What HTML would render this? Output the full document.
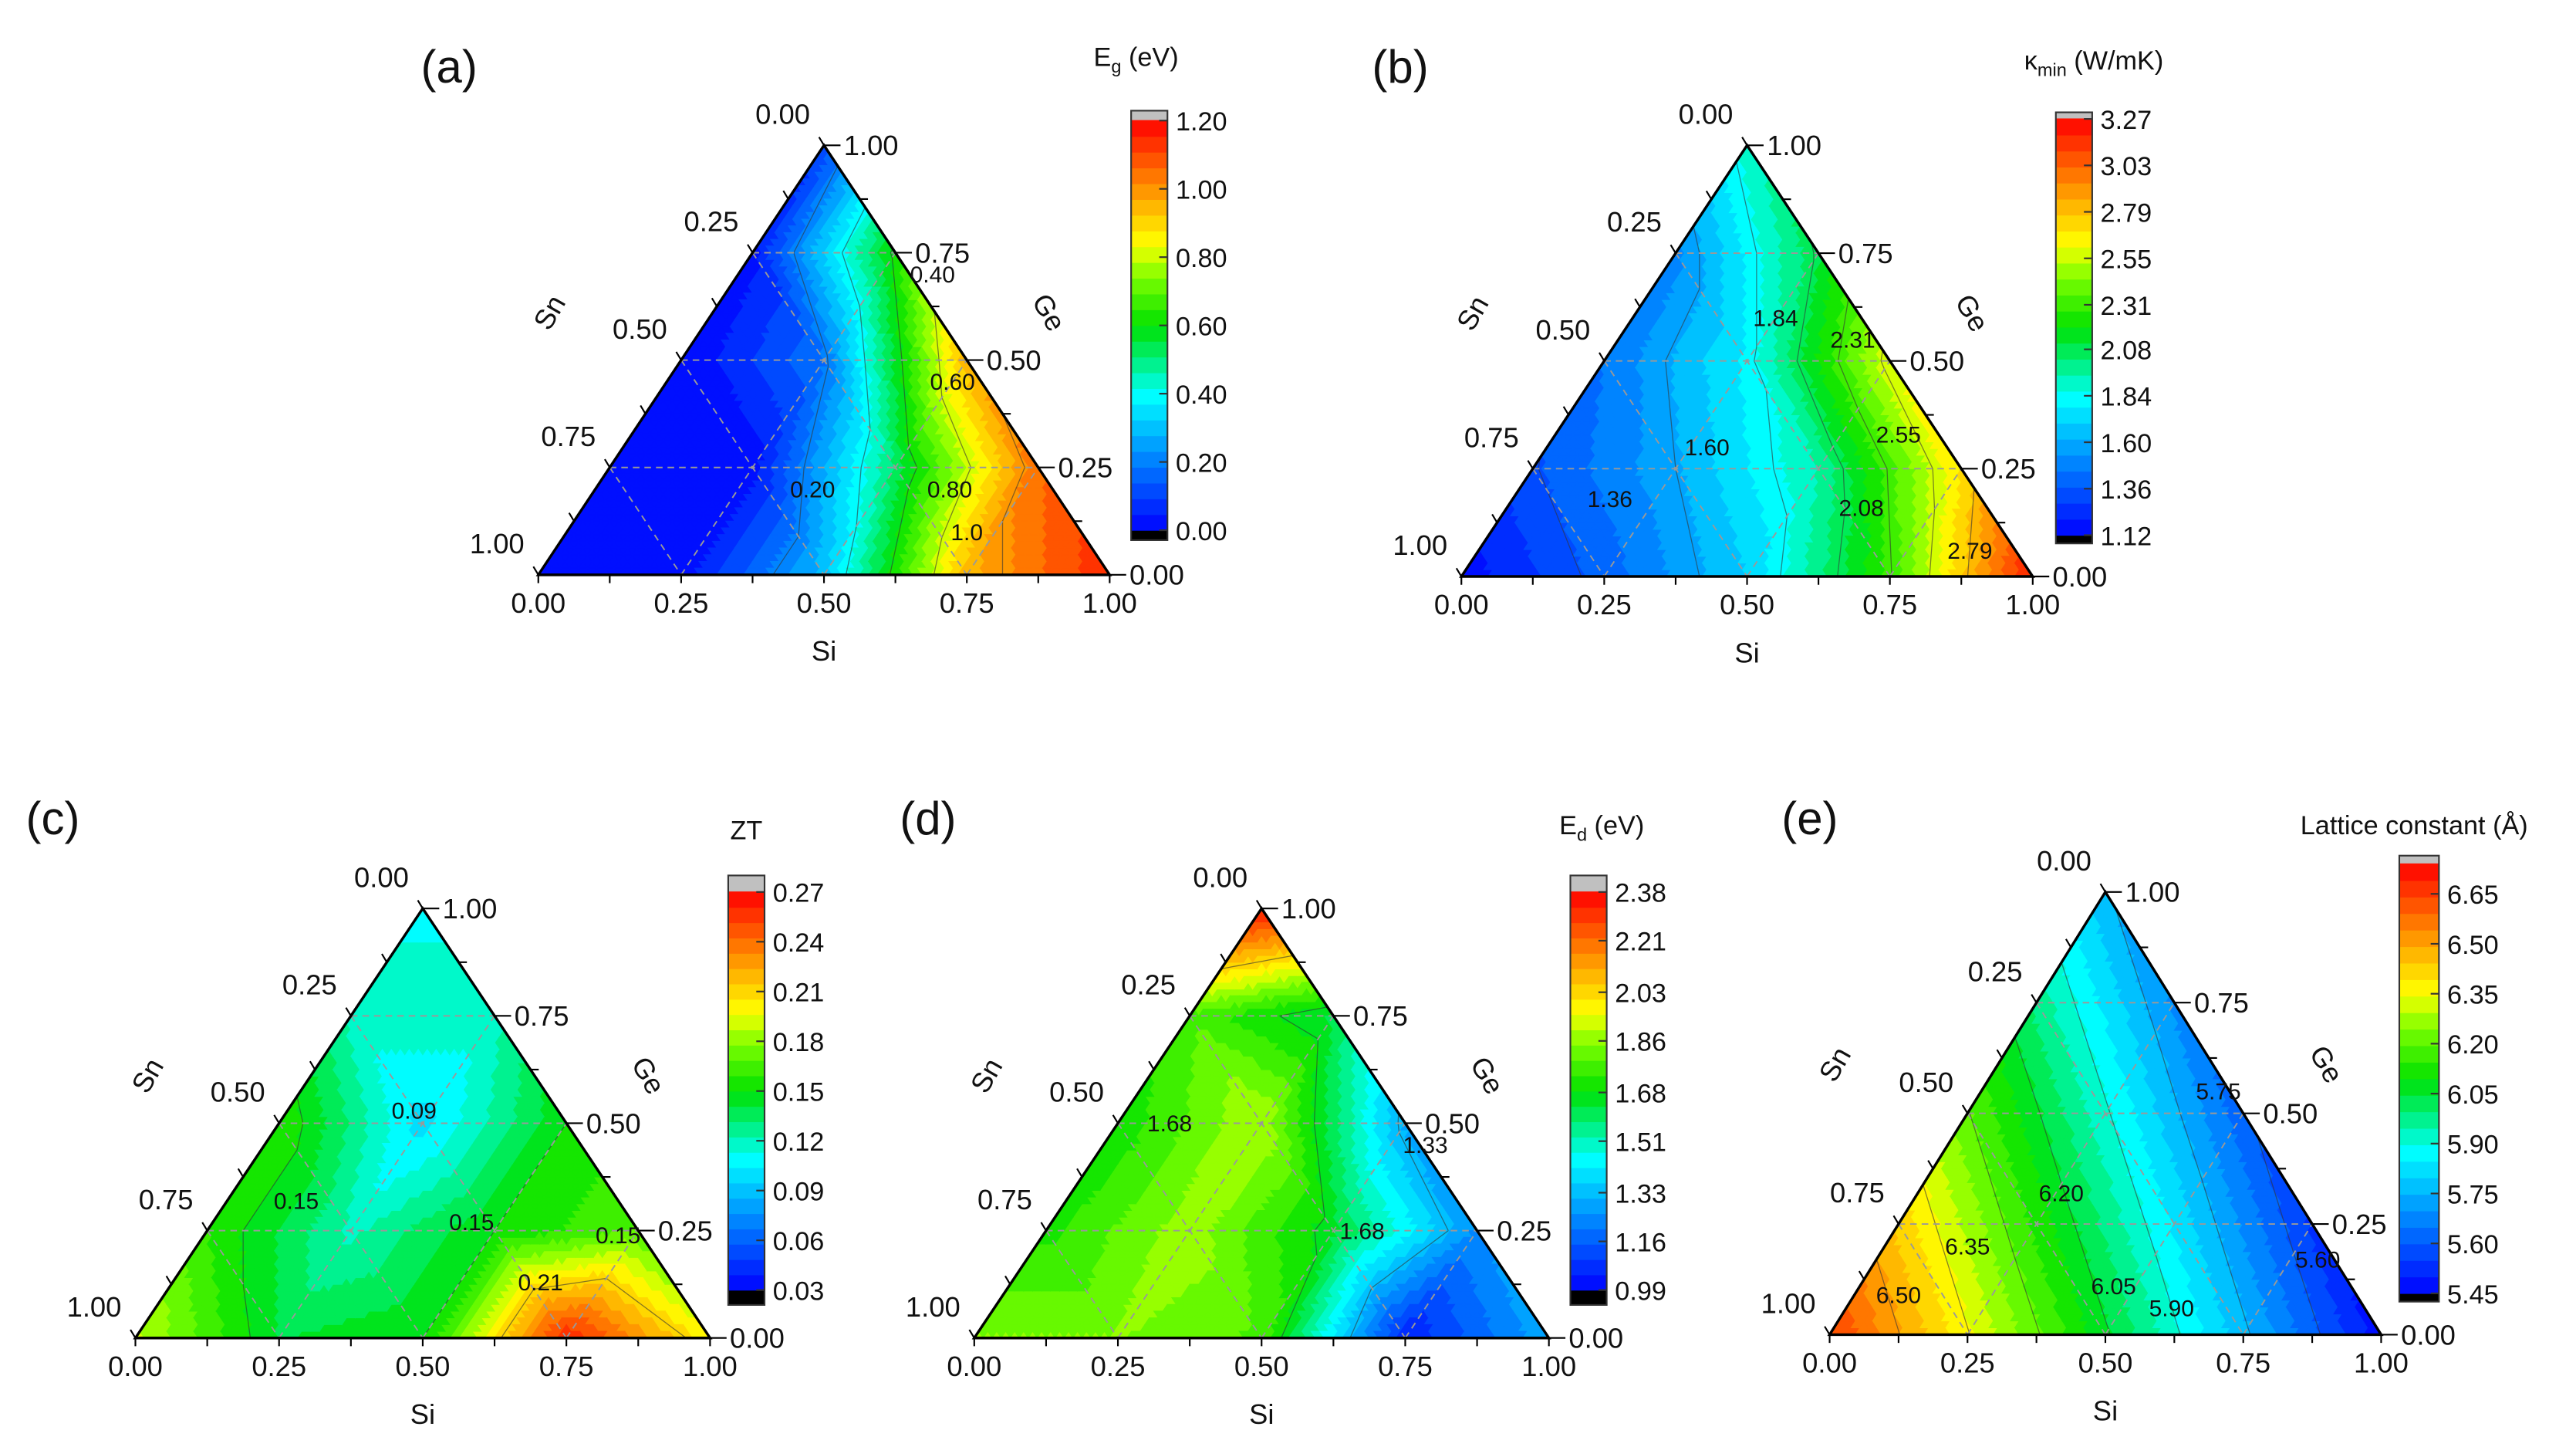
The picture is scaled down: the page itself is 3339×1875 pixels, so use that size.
<!DOCTYPE html>
<html><head><meta charset="utf-8"><style>
html,body{margin:0;padding:0;background:#fff}
svg{display:block}
text{font-family:"Liberation Sans",Arial,sans-serif;fill:#111}
</style></head><body>
<svg id="fig" width="3339" height="1875" viewBox="0 0 1560 876" preserveAspectRatio="none" xmlns="http://www.w3.org/2000/svg">
<g id="layer"></g>
</svg>
<script>
// ---------- data (grid rows by Ge fraction 0,0.25,0.5,0.75,1; values along Si = 0,0.25,...) ----------
const egRows = [[0.0,0.02,0.30,0.95,1.15],[0.0,0.02,0.52,1.05],[0.0,0.18,0.95],[0.03,0.62],[0.10]];
const kapRows = [[1.15,1.40,1.70,2.30,3.20],[1.35,1.60,1.95,2.70],[1.45,1.80,2.60],[1.50,2.10],[1.90]];
const ztRows = [[0.19,0.14,0.15,0.26,0.20],[0.16,0.12,0.15,0.17],[0.16,0.10,0.15],[0.12,0.12],[0.11]];
const edRows = [[1.85,1.85,1.78,1.05,1.30],[1.72,1.88,1.65,1.25],[1.70,1.90,1.30],[1.78,1.62],[2.35]];
const latRows = [[6.65,6.355,6.06,5.765,5.47],[6.43,6.13,5.84,5.54],[6.205,5.91,5.615],[5.98,5.69],[5.76]];

const egTicks = ["0.00","0.20","0.40","0.60","0.80","1.00","1.20"];
const kapTicks = ["1.12","1.36","1.60","1.84","2.08","2.31","2.55","2.79","3.03","3.27"];
const ztTicks = ["0.03","0.06","0.09","0.12","0.15","0.18","0.21","0.24","0.27"];
const edTicks = ["0.99","1.16","1.33","1.51","1.68","1.86","2.03","2.21","2.38"];
const latTicks = ["5.45","5.60","5.75","5.90","6.05","6.20","6.35","6.50","6.65"];

const egLevels = [0.2,0.4,0.6,0.8,1.0];
const kapLevels = [1.36,1.60,1.84,2.08,2.31,2.55,2.79];
const ztLevels = [0.09,0.15,0.21];
const edLevels = [1.33,1.68,2.03];
const latLevels = [5.60,5.75,5.90,6.05,6.20,6.35,6.50];

const axisTicks = ["0.00","0.25","0.50","0.75","1.00"];

const NS='http://www.w3.org/2000/svg';
const layer=document.getElementById('layer');
function mk(tag,attrs,parent){const e=document.createElementNS(NS,tag);for(const k in attrs)e.setAttribute(k,attrs[k]);(parent||layer).appendChild(e);return e;}

const stops=[[0,[0,0,255]],[0.17,[0,130,255]],[0.33,[0,255,255]],[0.5,[0,225,0]],[0.62,[128,255,0]],[0.7,[255,255,0]],[0.83,[255,150,0]],[1,[255,0,0]]];
function cmap(t){t=Math.max(0,Math.min(1,t));for(let i=1;i<stops.length;i++){if(t<=stops[i][0]){const a=stops[i-1],b=stops[i];const f=(t-a[0])/(b[0]-a[0]);const c=a[1].map((v,k)=>Math.round(v+(b[1][k]-v)*f));return `rgb(${c[0]},${c[1]},${c[2]})`;}}return 'rgb(255,0,0)';}
const NLEV=26;

function interp(rows,si,ge){
  let u=si*4,w=ge*4;let i=Math.min(Math.floor(u+1e-9),3),j=Math.min(Math.floor(w+1e-9),3);
  let fu=u-i,fw=w-j;
  if(i+j>3){if(i>0){i--;fu+=1;}else{j--;fw+=1;}}
  const V=(a,b)=>rows[b][a];
  if(fu+fw<=1+1e-9) return V(i,j)+(V(i+1,j)-V(i,j))*fu+(V(i,j+1)-V(i,j))*fw;
  return V(i+1,j+1)+(V(i,j+1)-V(i+1,j+1))*(1-fu)+(V(i+1,j)-V(i+1,j+1))*(1-fw);
}

function panel(P){
  const g=mk('g',{});
  
  
  const BL=P.BL,BR=P.BR,TP=P.TP;
  const pos=(si,ge)=>{const sn=1-si-ge;return [si*BR[0]+ge*TP[0]+sn*BL[0], si*BR[1]+ge*TP[1]+sn*BL[1]];};
  const N=64;
  const qcol=v=>{let t=(v-P.vmin)/(P.vmax-P.vmin);let k=Math.floor(t*NLEV);k=Math.max(0,Math.min(NLEV-1,k));return cmap((k+0.5)/NLEV);};
  const paths={};
  const tris=[];
  for(let a=0;a<N;a++)for(let b=0;a+b<N;b++){
    tris.push([[a,b],[a+1,b],[a,b+1]]);
    if(a+b<N-1)tris.push([[a+1,b],[a+1,b+1],[a,b+1]]);
  }
  const fill=mk('g',{},g);
  
  
  const lines=[];
  for(const t of tris){
    const pts=t.map(p=>pos(p[0]/N,p[1]/N));
    const cs=(t[0][0]+t[1][0]+t[2][0])/(3*N), cg=(t[0][1]+t[1][1]+t[2][1])/(3*N);
    const c=qcol(interp(P.rows,cs,cg));
    const d='M'+pts.map(p=>p[0].toFixed(2)+','+p[1].toFixed(2)).join('L')+'Z';
    paths[c]=(paths[c]||'')+d;
    const vals=t.map(p=>interp(P.rows,p[0]/N,p[1]/N));
    for(const L of P.levels){
      const seg=[];
      for(let e=0;e<3;e++){const i1=e,i2=(e+1)%3;const v1=vals[i1]-L,v2=vals[i2]-L;
        if((v1<0)!==(v2<0)){const f=v1/(v1-v2);seg.push([pts[i1][0]+(pts[i2][0]-pts[i1][0])*f,pts[i1][1]+(pts[i2][1]-pts[i1][1])*f]);}}
      if(seg.length===2)lines.push('M'+seg[0][0].toFixed(2)+','+seg[0][1].toFixed(2)+'L'+seg[1][0].toFixed(2)+','+seg[1][1].toFixed(2));
    }
  }
  for(const c in paths){const p=mk('path',{d:paths[c],fill:c,stroke:c,'stroke-width':0.5},fill);
    
    }
  const cl=mk('path',{d:lines.join(''),fill:'none',stroke:'#333','stroke-opacity':0.6,'stroke-width':0.6},g);
  
  
  const gd=[];
  for(const f of [0.25,0.5,0.75]){
    let a=pos(0,f),b=pos(1-f,f);gd.push(`M${a}L${b}`);
    a=pos(f,0);b=pos(f,1-f);gd.push(`M${a}L${b}`);
    a=pos(0,1-f);b=pos(1-f,0);gd.push(`M${a}L${b}`);
  }
  const gp=mk('path',{d:gd.join(''),fill:'none',stroke:'#999','stroke-width':0.9,'stroke-dasharray':'4,3'},g);
  
  
  const tri=mk('path',{d:`M${BL}L${BR}L${TP}Z`,fill:'none',stroke:'#000','stroke-width':1.6},g);
  
  
  const tk=[];
  for(let k=0;k<=8;k++){const f=k/8;
    let p=pos(f,0);tk.push(`M${p[0]},${p[1]}l0,5`);
    p=pos(1-f,f);tk.push(`M${p[0]},${p[1]}l${k%2?5:10},0`);
    p=pos(0,1-f);tk.push(`M${p[0]},${p[1]}l-3,-5`);
  }
  mk('path',{d:tk.join(''),stroke:'#000','stroke-width':1,fill:'none'},g);
  const fs=P.fs||17;
  axisTicks.forEach((s,k)=>{const f=k/4;
    let p=pos(f,0);let t=mk('text',{x:p[0],y:p[1]+23,'font-size':fs,'text-anchor':'middle'},g);t.textContent=s;
    
    
    p=pos(1-f,f);t=mk('text',{x:p[0]+12,y:p[1]+6,'font-size':fs},g);t.textContent=s;
    
    
    p=pos(0,1-f);t=mk('text',{x:p[0]-25,y:p[1]-13,'font-size':fs,'text-anchor':'middle'},g);t.textContent=s;
    
    
  });
  const cx=(BL[0]+BR[0])/2, h=BL[1]-TP[1];
  let t=mk('text',{x:cx,y:BL[1]+52,'font-size':fs,'text-anchor':'middle'},g);t.textContent='Si';
  
  let sx=BL[0]+(TP[0]-BL[0])*0.6-92, sy=BL[1]-h*0.6;
  t=mk('text',{x:sx,y:sy,'font-size':fs,'text-anchor':'middle',transform:`rotate(-60 ${sx} ${sy})`},g);t.textContent='Sn';
  
  sx=BR[0]-(BR[0]-TP[0])*0.6+62;
  t=mk('text',{x:sx,y:sy,'font-size':fs,'text-anchor':'middle',transform:`rotate(60 ${sx} ${sy})`},g);t.textContent='Ge';
  
  P.clabels.forEach(c=>{const p=pos(c[1],c[2]);const tt=mk('text',{x:p[0],y:p[1]+5,'font-size':14,'text-anchor':'middle'},g);tt.textContent=c[0];
    });
  t=mk('text',{x:P.lab[0],y:P.lab[1],'font-size':28,'text-anchor':'middle'},g);t.textContent=P.letter;
  
  const cb=mk('g',{},g);
  
  
  const [x0,x1,yT,yB,yMax,yMin]=P.cb;
  const yOf=v=>yMin+(v-P.vmin)/(P.vmax-P.vmin)*(yMax-yMin);
  mk('rect',{x:x0,y:yT,width:x1-x0,height:yMax-yT,fill:'#c0c0c0'},cb);
  mk('rect',{x:x0,y:yMin,width:x1-x0,height:yB-yMin,fill:'#000'},cb);
  for(let k=0;k<NLEV;k++){const ya=yMin+(yMax-yMin)*k/NLEV,yb=yMin+(yMax-yMin)*(k+1)/NLEV;
    mk('rect',{x:x0,y:Math.min(ya,yb)-0.3,width:x1-x0,height:Math.abs(yb-ya)+0.6,fill:cmap((k+0.5)/NLEV)},cb);}
  mk('rect',{x:x0,y:yT,width:x1-x0,height:yB-yT,fill:'none',stroke:'#333','stroke-width':1},cb);
  P.ticks.forEach(s=>{const y=yOf(parseFloat(s));mk('line',{x1:x1-5,x2:x1,y1:y,y2:y,stroke:'#333','stroke-width':1},cb);
    const tt=mk('text',{x:x1+5,y:y+6,'font-size':P.cfs||16},cb);tt.textContent=s;
    });
  t=mk('text',{x:P.title[0],y:P.title[1],'font-size':16,'text-anchor':'middle'},cb);
  t.innerHTML=P.titleHTML;
  
}

panel({name:'band-gap',letter:'(a)',lab:[272,50],rows:egRows,levels:egLevels,vmin:0,vmax:1.2,
  BL:[326,348],BR:[672,348],TP:[499,88],cb:[685,707,67,327,73,321],ticks:egTicks,
  title:[688,40],titleHTML:'E<tspan font-size="11" dy="4">g</tspan><tspan dy="-4"> (eV)</tspan>',
  clabels:[['0.40',0.34,0.70],['0.60',0.50,0.45],['0.20',0.38,0.20],['0.80',0.62,0.20],['1.0',0.70,0.10]]});
panel({name:'thermal-conductivity',letter:'(b)',lab:[848,50],rows:kapRows,levels:kapLevels,vmin:1.12,vmax:3.27,
  BL:[885,349],BR:[1231,349],TP:[1058,88],cb:[1245,1267,68,329,72,324],ticks:kapTicks,
  title:[1268,42],titleHTML:'κ<tspan font-size="11" dy="4">min</tspan><tspan dy="-4"> (W/mK)</tspan>',
  clabels:[['1.84',0.25,0.60],['2.31',0.41,0.55],['1.60',0.28,0.30],['2.55',0.60,0.33],['1.36',0.17,0.18],['2.08',0.62,0.16],['2.79',0.86,0.06]]});
panel({name:'zt',letter:'(c)',lab:[32,505],rows:ztRows,levels:ztLevels,vmin:0.03,vmax:0.27,
  BL:[82,810],BR:[430,810],TP:[256,550],cb:[441,463,530,790,540,781],ticks:ztTicks,
  title:[452,508],titleHTML:'ZT',
  clabels:[['0.09',0.22,0.53],['0.15',0.12,0.32],['0.15',0.45,0.27],['0.15',0.72,0.24],['0.21',0.64,0.13]]});
panel({name:'defect-energy',letter:'(d)',lab:[562,505],rows:edRows,levels:edLevels,vmin:0.99,vmax:2.38,
  BL:[590,810],BR:[938,810],TP:[764,550],cb:[951,973,530,790,540,781],ticks:edTicks,
  title:[970,505],titleHTML:'E<tspan font-size="11" dy="4">d</tspan><tspan dy="-4">  (eV)</tspan>',
  clabels:[['1.68',0.09,0.50],['1.33',0.56,0.45],['1.68',0.55,0.25]]});
panel({name:'lattice-constant',letter:'(e)',lab:[1096,505],rows:latRows,levels:latLevels,vmin:5.45,vmax:6.74,
  BL:[1108,808],BR:[1442,808],TP:[1275,540],cb:[1453,1477,518,788,523,783],ticks:latTicks,
  title:[1462,505],titleHTML:'Lattice constant (Å)',
  clabels:[['5.75',0.43,0.55],['6.20',0.26,0.32],['6.35',0.15,0.20],['6.05',0.46,0.11],['5.90',0.59,0.06],['6.50',0.08,0.09],['5.60',0.80,0.17]]});
</script>
</body></html>
